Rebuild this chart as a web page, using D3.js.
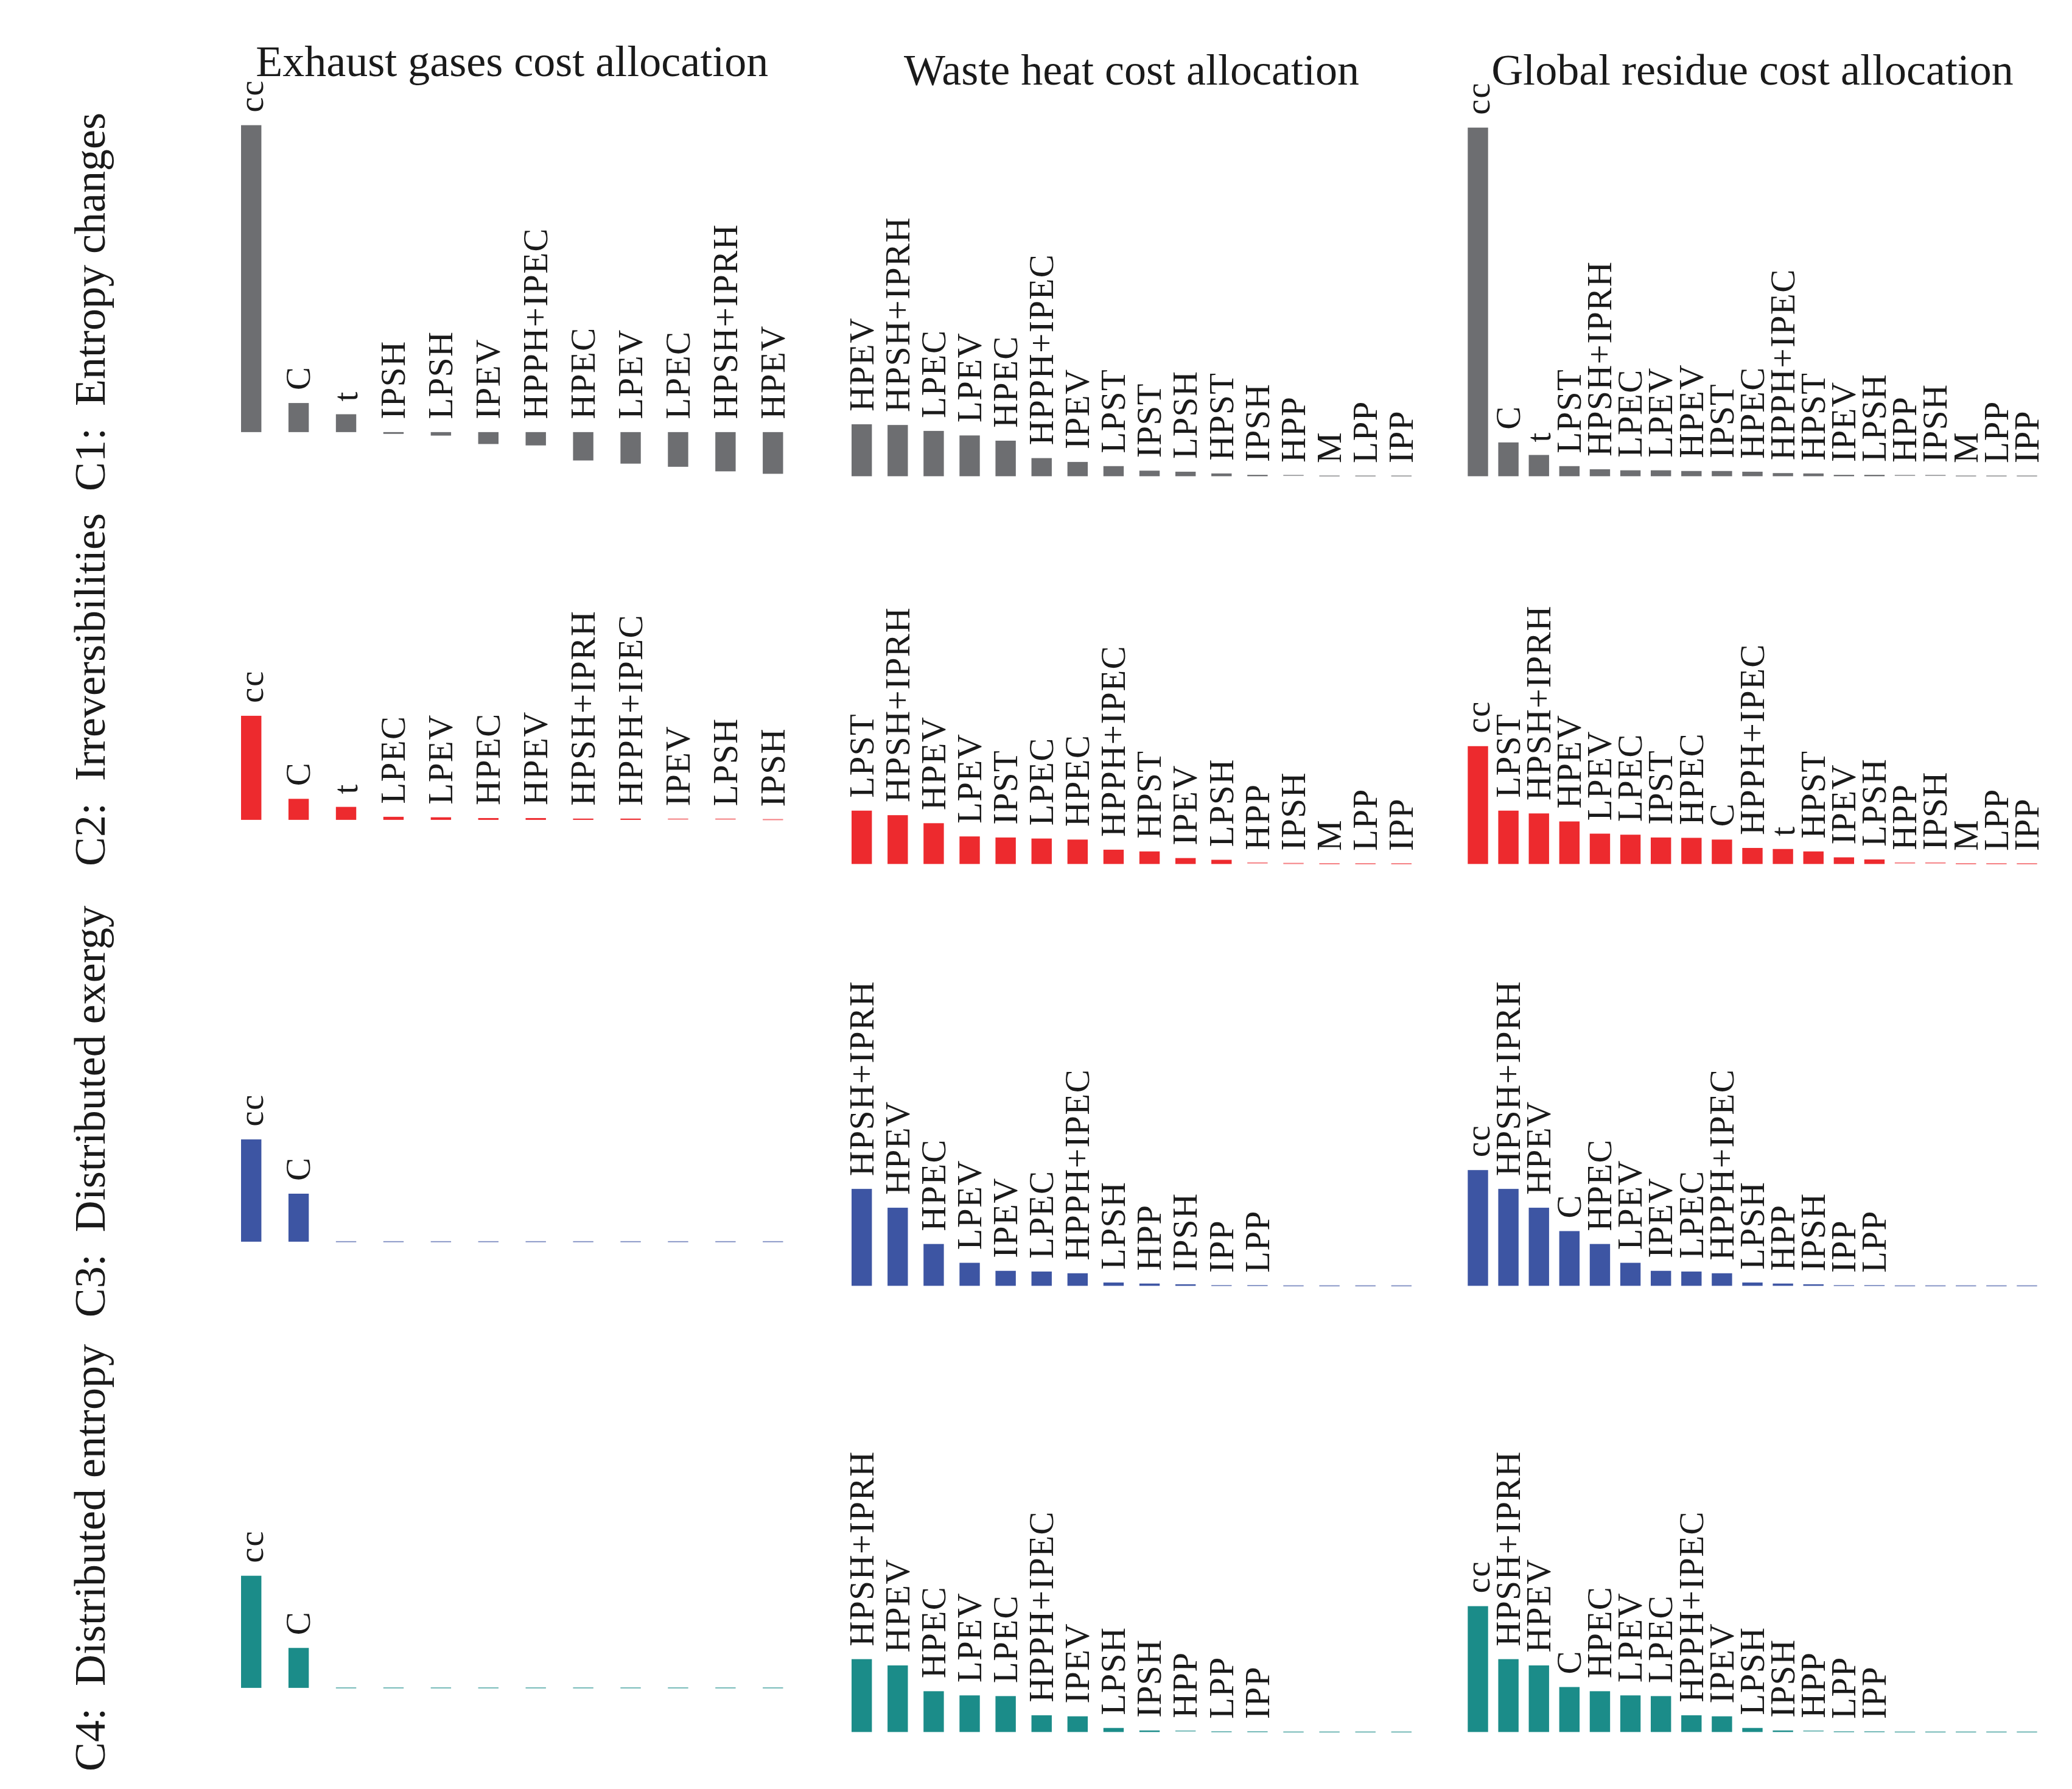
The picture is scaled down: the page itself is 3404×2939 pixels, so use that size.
<!DOCTYPE html>
<html>
<head>
<meta charset="utf-8">
<script src="https://cdn.jsdelivr.net/npm/d3@7"></script>
<style>
  body { margin: 0; background: #fff; }
  text { font-family: "Liberation Serif", "DejaVu Serif", serif; fill: #1a1a1a; }
</style>
</head>
<body>
<div id="container"></div>
<script>
// Titres
const colTitles = ["Exhaust gases cost allocation", "Waste heat cost allocation", "Global residue cost allocation"];
const rowTitles = ["C1:\u2002Entropy changes", "C2:\u2002Irreversibilities", "C3:\u2002Distributed exergy", "C4:\u2002Distributed entropy"];
const rowColors = ["#6d6e71", "#ed2a2e", "#3d55a3", "#1b8c89"];

// C1 : entropy changes
const c1ExhaustLabels = ["cc", "C", "t", "IPSH", "LPSH", "IPEV", "HPPH+IPEC", "HPEC", "LPEV", "LPEC", "HPSH+IPRH", "HPEV"];
const c1ExhaustValues = [87.6, 8.3, 5.1, -0.5, -1.0, -3.4, -3.8, -8.1, -9.0, -9.9, -11.2, -11.9];
const c1WasteLabels = ["HPEV", "HPSH+IPRH", "LPEC", "LPEV", "HPEC", "HPPH+IPEC", "IPEV", "LPST", "IPST", "LPSH", "HPST", "IPSH", "HPP", "M", "LPP", "IPP"];
const c1WasteValues = [14.9, 14.7, 13.0, 11.7, 10.2, 5.2, 4.1, 2.9, 1.6, 1.3, 0.8, 0.4, 0.25, 0.08, 0.08, 0.08];
const c1GlobalLabels = ["cc", "C", "t", "LPST", "HPSH+IPRH", "LPEC", "LPEV", "HPEV", "IPST", "HPEC", "HPPH+IPEC", "HPST", "IPEV", "LPSH", "HPP", "IPSH", "M", "LPP", "IPP"];
const c1GlobalValues = [100, 9.7, 6.1, 2.9, 2.0, 1.7, 1.7, 1.5, 1.5, 1.3, 0.9, 0.8, 0.4, 0.4, 0.25, 0.25, 0.08, 0.08, 0.08];

// C2 : irreversibilities
const c2ExhaustLabels = ["cc", "C", "t", "LPEC", "LPEV", "HPEC", "HPEV", "HPSH+IPRH", "HPPH+IPEC", "IPEV", "LPSH", "IPSH"];
const c2ExhaustValues = [29.7, 6.0, 3.7, 0.87, 0.73, 0.51, 0.51, 0.36, 0.36, 0.22, 0.22, 0.07];
const c2WasteLabels = ["LPST", "HPSH+IPRH", "HPEV", "LPEV", "IPST", "LPEC", "HPEC", "HPPH+IPEC", "HPST", "IPEV", "LPSH", "HPP", "IPSH", "M", "LPP", "IPP"];
const c2WasteValues = [15.3, 14.0, 11.7, 7.9, 7.6, 7.3, 7.0, 4.1, 3.6, 1.7, 1.2, 0.3, 0.15, 0.07, 0.07, 0.07];
const c2GlobalLabels = ["cc", "LPST", "HPSH+IPRH", "HPEV", "LPEV", "LPEC", "IPST", "HPEC", "C", "HPPH+IPEC", "t", "HPST", "IPEV", "LPSH", "HPP", "IPSH", "M", "LPP", "IPP"];
const c2GlobalValues = [33.8, 15.3, 14.5, 12.2, 8.7, 8.4, 7.6, 7.5, 7.0, 4.6, 4.3, 3.6, 1.9, 1.3, 0.3, 0.3, 0.07, 0.07, 0.07];

// C3 : distributed exergy
const c3ExhaustLabels = ["cc", "C", "", "", "", "", "", "", "", "", "", ""];
const c3ExhaustValues = [29.2, 13.7, 0, 0, 0, 0, 0, 0, 0, 0, 0, 0];
const c3WasteLabels = ["HPSH+IPRH", "HPEV", "HPEC", "LPEV", "IPEV", "LPEC", "HPPH+IPEC", "LPSH", "HPP", "IPSH", "IPP", "LPP", "", "", "", ""];
const c3WasteValues = [27.8, 22.4, 12.0, 6.6, 4.3, 4.1, 3.6, 0.95, 0.65, 0.44, 0.07, 0.07, 0, 0, 0, 0];
const c3GlobalLabels = ["cc", "HPSH+IPRH", "HPEV", "C", "HPEC", "LPEV", "IPEV", "LPEC", "HPPH+IPEC", "LPSH", "HPP", "IPSH", "IPP", "LPP", "", "", "", "", ""];
const c3GlobalValues = [33.2, 27.8, 22.4, 15.7, 12.0, 6.6, 4.3, 4.1, 3.6, 0.95, 0.65, 0.44, 0.07, 0.07, 0, 0, 0, 0, 0];

// C4 : distributed entropy
const c4ExhaustLabels = ["cc", "C", "", "", "", "", "", "", "", "", "", ""];
const c4ExhaustValues = [32.0, 11.4, 0, 0, 0, 0, 0, 0, 0, 0, 0, 0];
const c4WasteLabels = ["HPSH+IPRH", "HPEV", "HPEC", "LPEV", "LPEC", "HPPH+IPEC", "IPEV", "LPSH", "IPSH", "HPP", "LPP", "IPP", "", "", "", ""];
const c4WasteValues = [20.9, 19.1, 11.7, 10.5, 10.3, 4.8, 4.5, 1.16, 0.44, 0.29, 0.07, 0.07, 0, 0, 0, 0];
const c4GlobalLabels = ["cc", "HPSH+IPRH", "HPEV", "C", "HPEC", "LPEV", "LPEC", "HPPH+IPEC", "IPEV", "LPSH", "IPSH", "HPP", "LPP", "IPP", "", "", "", "", ""];
const c4GlobalValues = [36.1, 20.9, 19.1, 12.9, 11.7, 10.5, 10.3, 4.8, 4.5, 1.16, 0.44, 0.29, 0.07, 0.07, 0, 0, 0, 0, 0];

const grid = [
  [[c1ExhaustLabels, c1ExhaustValues], [c1WasteLabels, c1WasteValues], [c1GlobalLabels, c1GlobalValues]],
  [[c2ExhaustLabels, c2ExhaustValues], [c2WasteLabels, c2WasteValues], [c2GlobalLabels, c2GlobalValues]],
  [[c3ExhaustLabels, c3ExhaustValues], [c3WasteLabels, c3WasteValues], [c3GlobalLabels, c3GlobalValues]],
  [[c4ExhaustLabels, c4ExhaustValues], [c4WasteLabels, c4WasteValues], [c4GlobalLabels, c4GlobalValues]]
];

// Mise en page
const width = 3404, height = 2939;
const colCenters = [[412.7, 1269.8], [1415.7, 2302.3], [2428, 3330]];
const colShift = [-4, 0, 0];
const rowTops = [181, 818, 1511, 2244];
const axisHeight = 630;
const barWidth = 33.4;
const labelGap = 21;

const svg = d3.select("#container").append("svg")
  .attr("width", width)
  .attr("height", height);

// marge de 5% comme matplotlib, y partagé par colonne
function padded(vals) {
  const [a, b] = d3.extent(vals.concat([0]));
  const p = (b - a) * 0.05;
  return [a - p, b + p];
}
const col1Domain = padded(grid.flatMap(r => r[0][1]));
const col23Domain = padded(grid.flatMap(r => r[1][1].concat(r[2][1])));

grid.forEach((row, ri) => {
  row.forEach(([labels, values], ci) => {
    const top = rowTops[ri] + colShift[ci];
    const y = d3.scaleLinear()
      .domain(ci === 0 ? col1Domain : col23Domain)
      .range([top + axisHeight, top]);
    const x = d3.scalePoint()
      .domain(d3.range(values.length))
      .range(colCenters[ci]);

    const g = svg.append("g");
    const data = values.map((v, i) => ({ v: v, label: labels[i], i: i }));

    // barres (les valeurs quasi nulles restent visibles en trait fin)
    g.selectAll("rect").data(data).enter().append("rect")
      .attr("x", d => x(d.i) - barWidth / 2)
      .attr("y", d => Math.min(y(d.v), y(0)) - (Math.abs(y(d.v) - y(0)) < 2 ? 1 : 0))
      .attr("width", barWidth)
      .attr("height", d => Math.max(Math.abs(y(d.v) - y(0)), 2))
      .attr("fill", rowColors[ri])
      .attr("fill-opacity", d => Math.abs(y(d.v) - y(0)) < 2 ? 0.6 : 1);

    g.selectAll("text").data(data.filter(d => d.label !== "")).enter().append("text")
      .attr("transform", d => `translate(${x(d.i)},${Math.min(y(d.v), y(0)) - labelGap}) rotate(-90)`)
      .attr("dy", "0.33em")
      .style("font-size", "57px")
      .style("letter-spacing", "1.5px")
      .text(d => d.label);
  });
});

// titres des colonnes
const titleY = [125, 139, 139];
colTitles.forEach((t, ci) => {
  svg.append("text")
    .attr("x", d3.mean(colCenters[ci]))
    .attr("y", titleY[ci])
    .attr("text-anchor", "middle")
    .style("font-size", "72px")
    .text(t);
});

// titres des lignes
rowTitles.forEach((t, ri) => {
  svg.append("text")
    .attr("transform", `translate(172,${rowTops[ri] + axisHeight / 2}) rotate(-90)`)
    .attr("text-anchor", "middle")
    .style("font-size", "72px")
    .text(t);
});
</script>
</body>
</html>
